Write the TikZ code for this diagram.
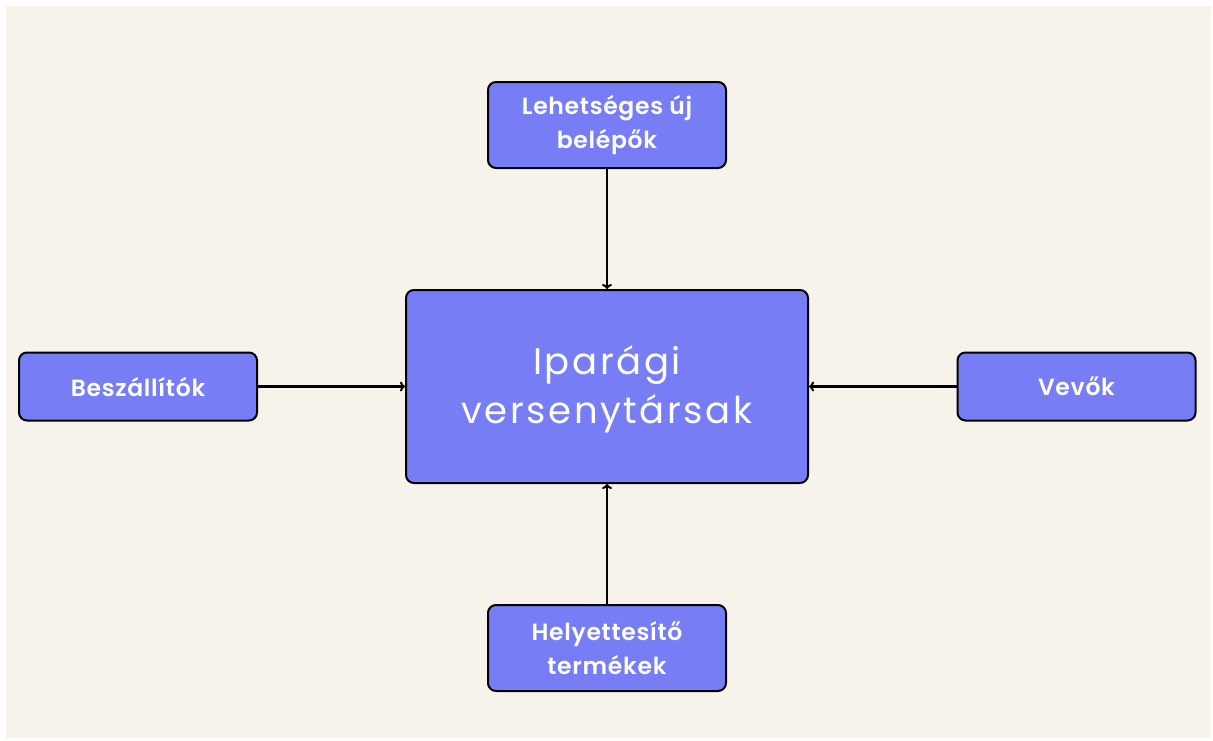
\documentclass[tikz,border=0pt]{standalone}
\usepackage{fontspec}
\setmainfont{Poppins}
\IfFontExistsTF{Poppins SemiBold}{%
  \newfontfamily\semib{Poppins SemiBold}[LetterSpace=3]}{%
  \newfontfamily\semib{Poppins}[LetterSpace=3]}
\newfontfamily\centerfont{Poppins}[LetterSpace=7]
\usetikzlibrary{arrows.meta}
\definecolor{bg}{HTML}{F7F2EA}
\definecolor{boxfill}{HTML}{777EF5}
\begin{document}
\begin{tikzpicture}[x=1pt,y=-1pt,
  box/.style={draw=black,line width=2pt,fill=boxfill,rounded corners=8pt,
    text=white,align=center,inner sep=0pt},
  small/.style={box,minimum width=238pt,minimum height=86pt,font=\semib\fontsize{23.5}{34}\selectfont},
  side/.style={box,minimum width=238pt,minimum height=68pt,font=\semib\fontsize{23.5}{34}\selectfont},
  bigtext/.style={text=white,align=center,inner sep=0pt,font=\centerfont\fontsize{37}{49}\selectfont},
  conn/.style={line width=2.3pt,-{To[length=5pt,width=10pt,line width=2pt]}}]
\useasboundingbox (0,0) rectangle (1213,740);
\fill[white] (0,0) rectangle (1213,740);
\fill[bg] (6,6) rectangle (1211,738);
\node[box,minimum width=402pt,minimum height=193pt] (c) at (607,386.5) {};
\node[bigtext] (ct) at (607,389) {Iparági\\versenytársak};
\node[small] (t) at (607,125) {Lehetséges új\\belépők};
\node[small] (b) at (607,648) {Helyettesítő\\termékek};
\node[side] (l) at (138,386.5) {Beszállítók};
\node[side] (r) at (1076.5,386.5) {Vevők};
\draw[conn] (t) -- (c);
\draw[conn] (b) -- (c);
\draw[conn] (l) -- (c);
\draw[conn] (r) -- (c);
\end{tikzpicture}
\end{document}
